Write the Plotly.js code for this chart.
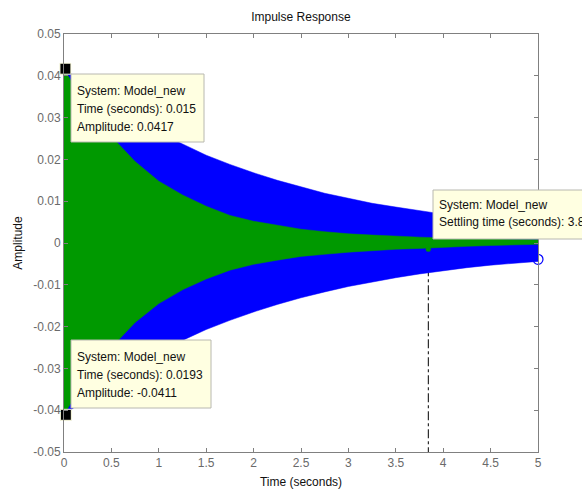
<!DOCTYPE html>
<html>
<head>
<meta charset="utf-8">
<script src="https://cdn.plot.ly/plotly-3.0.1.min.js"></script>
<style>html,body{margin:0;padding:0;background:#fff;}#chart{width:582px;height:496px;}</style>
</head>
<body>
<div id="chart"></div>
<script>
// Envelope sample times (s)
var timeSec = [0, 0.25, 0.5, 0.75, 1, 1.25, 1.5, 1.75, 2, 2.25, 2.5, 2.75, 3, 3.25, 3.5, 3.75, 4, 4.25, 4.5, 4.75, 5];
// Model_new (blue) response envelope
var blueUpper = [0.0417, 0.0375, 0.0335, 0.0300, 0.0265, 0.0237, 0.0210, 0.0188, 0.0168, 0.0150, 0.0134, 0.0119, 0.0107, 0.0095, 0.0086, 0.0077, 0.0069, 0.0062, 0.0055, 0.0050, 0.0045];
var blueLower = [-0.0411, -0.0370, -0.0330, -0.0295, -0.0260, -0.0233, -0.0207, -0.0185, -0.0165, -0.0147, -0.0131, -0.0117, -0.0104, -0.0093, -0.0083, -0.0074, -0.0066, -0.0059, -0.0053, -0.0048, -0.0044];
// Second (green) response envelope
var greenUpper = [0.0417, 0.0320, 0.0255, 0.0195, 0.0148, 0.0115, 0.0088, 0.0066, 0.0052, 0.0042, 0.0033, 0.0027, 0.0022, 0.0019, 0.0016, 0.0014, 0.0012, 0.0011, 0.0010, 0.0009, 0.0008];
var greenLower = [-0.0411, -0.0315, -0.0250, -0.0190, -0.0145, -0.0112, -0.0086, -0.0065, -0.0051, -0.0041, -0.0032, -0.0027, -0.0022, -0.0018, -0.0015, -0.0013, -0.0011, -0.0008, -0.0006, -0.0004, -0.0003];

// Data tips
var peakTime = [0.015, 0.0193];
var peakAmp = [0.0417, -0.0411];
var settleTime = [3.843];
var settleAmp = [-0.0015];
var endTime = [5];
var endAmp = [-0.0039];

var xTicks = [0, 0.5, 1, 1.5, 2, 2.5, 3, 3.5, 4, 4.5, 5];
var xTickText = ['0', '0.5', '1', '1.5', '2', '2.5', '3', '3.5', '4', '4.5', '5'];
var yTicks = [-0.05, -0.04, -0.03, -0.02, -0.01, 0, 0.01, 0.02, 0.03, 0.04, 0.05];
var yTickText = ['-0.05', '-0.04', '-0.03', '-0.02', '-0.01', '0', '0.01', '0.02', '0.03', '0.04', '0.05'];

var tipLines1 = ['System: Model_new', 'Time (seconds): 0.015', 'Amplitude: 0.0417'];
var tipLines2 = ['System: Model_new', 'Time (seconds): 0.0193', 'Amplitude: -0.0411'];
var tipLines3 = ['System: Model_new', 'Settling time (seconds): 3.84'];

function band(up, lo) {
  var xs = timeSec.concat(timeSec.slice().reverse());
  var ys = up.concat(lo.slice().reverse());
  return {x: xs, y: ys};
}
var bb = band(blueUpper, blueLower);
var gb = band(greenUpper, greenLower);

var greenCol = '#009900';
var traces = [
  {x: [settleTime[0], settleTime[0]], y: [settleAmp[0], -0.05], mode: 'lines', line: {color: '#000', width: 1, dash: 'dashdot'}, hoverinfo: 'skip'},
  {x: bb.x, y: bb.y, mode: 'lines', fill: 'toself', fillcolor: '#0000ff', line: {color: '#0000ff', width: 0.5}, hoverinfo: 'skip'},
  {x: gb.x, y: gb.y, mode: 'lines', fill: 'toself', fillcolor: greenCol, line: {color: greenCol, width: 0.5}, hoverinfo: 'skip'},
  {x: settleTime, y: settleAmp, mode: 'markers', marker: {color: greenCol, size: 5}, hoverinfo: 'skip'},
  {x: endTime, y: endAmp, mode: 'markers', cliponaxis: false, marker: {symbol: 'circle-open', color: '#0000ff', size: 10, line: {width: 1.2, color: '#0000ff'}}, hoverinfo: 'skip'},
  {x: peakTime, y: peakAmp, mode: 'markers', cliponaxis: false, marker: {symbol: 'square', color: '#000', size: 11, line: {color: '#ffffe1', width: 1}}, hoverinfo: 'skip'}
];

function px2x(px) { return (px - 64) / 474; }
function px2y(py) { return (452 - py) / 418; }

var shapes = [];
var annotations = [];
function tip(x0, x1, top, bottom, textX, lineYs, lines) {
  shapes.push({type: 'rect', xref: 'paper', yref: 'paper', x0: px2x(x0), x1: px2x(x1), y0: px2y(bottom), y1: px2y(top),
    fillcolor: '#ffffe1', line: {color: '#b8b8b0', width: 1}, layer: 'above'});
  for (var i = 0; i < lines.length; i++) {
    annotations.push({xref: 'paper', yref: 'paper', x: px2x(textX), y: px2y(lineYs[i]), xanchor: 'left', yanchor: 'middle',
      text: lines[i], showarrow: false, font: {family: 'Liberation Sans, Arial, sans-serif', size: 12, color: '#111'}});
  }
}
tip(71, 204, 74, 142, 75, [91, 109, 127], tipLines1);
tip(71, 211, 340, 408, 75, [357, 375, 393], tipLines2);
tip(433, 640, 190, 239, 437, [205, 222], tipLines3);

var axisFont = {family: 'Liberation Sans, Arial, sans-serif', size: 12, color: '#6a6a6a'};
var layout = {
  width: 582, height: 496,
  margin: {l: 64, r: 44, t: 34, b: 44, pad: 0},
  paper_bgcolor: '#ffffff', plot_bgcolor: '#ffffff',
  showlegend: false,
  title: {text: 'Impulse Response', x: 0.517, xanchor: 'center', y: 0.966, yanchor: 'middle', font: {family: 'Liberation Sans, Arial, sans-serif', size: 12, color: '#111'}},
  xaxis: {range: [0, 5], tickvals: xTicks, ticktext: xTickText, ticks: 'inside', ticklen: 4, tickcolor: '#808080',
    showline: true, linecolor: '#808080', linewidth: 1, mirror: 'ticks', showgrid: false, zeroline: false,
    tickfont: axisFont,
    title: {text: 'Time (seconds)', standoff: 8, font: {family: 'Liberation Sans, Arial, sans-serif', size: 12, color: '#111'}}},
  yaxis: {range: [-0.05, 0.05], tickvals: yTicks, ticktext: yTickText, ticks: 'inside', ticklen: 4, tickcolor: '#808080',
    showline: true, linecolor: '#808080', linewidth: 1, mirror: 'ticks', showgrid: false, zeroline: false,
    tickfont: axisFont,
    title: {text: 'Amplitude', standoff: 8, font: {family: 'Liberation Sans, Arial, sans-serif', size: 12, color: '#111'}}},
  shapes: shapes,
  annotations: annotations
};

Plotly.newPlot('chart', traces, layout, {staticPlot: true, displayModeBar: false});
</script>
</body>
</html>
